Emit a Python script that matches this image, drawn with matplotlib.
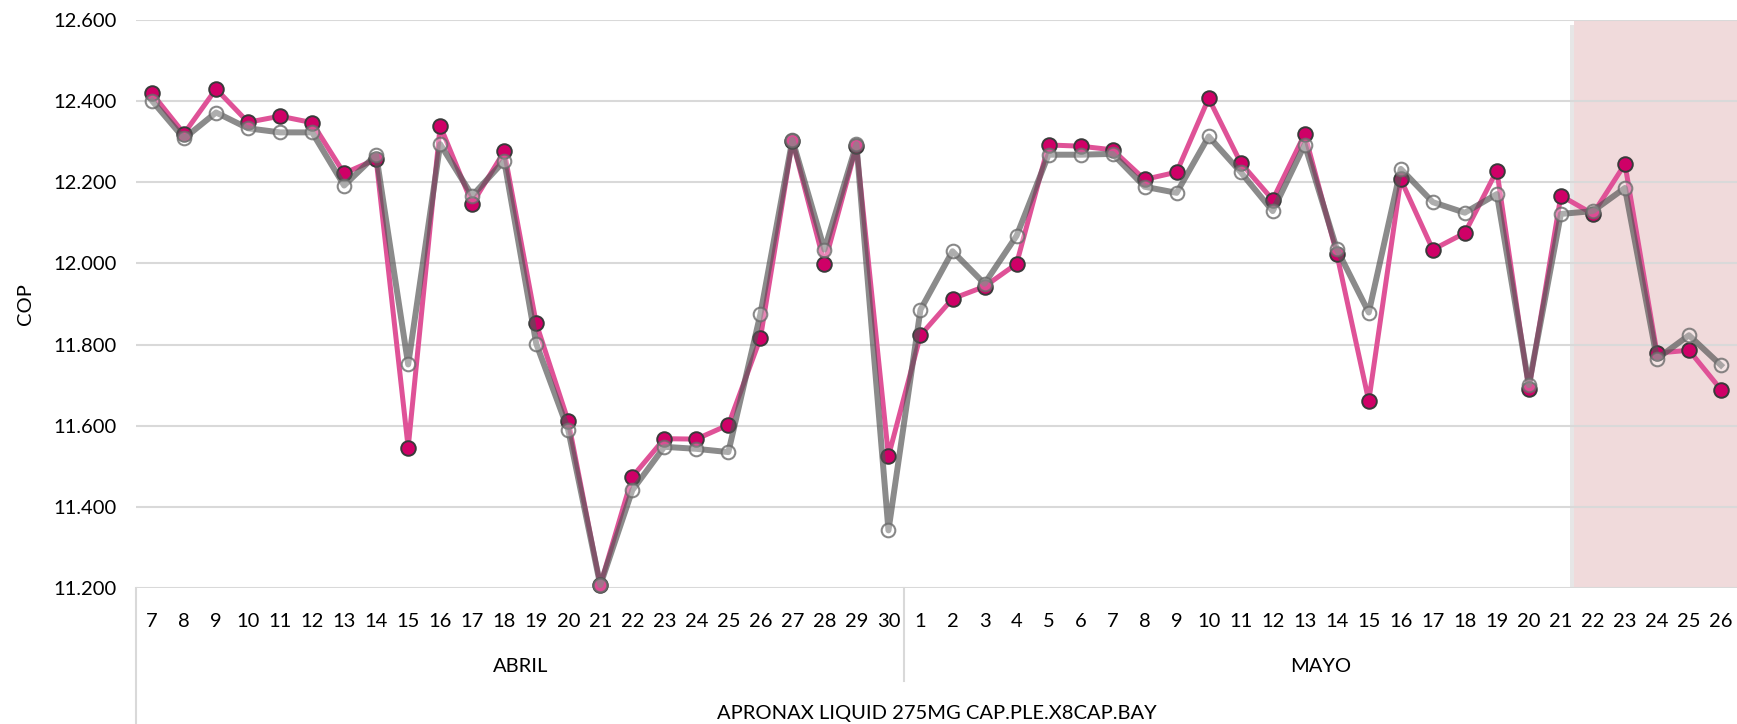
import numpy as np
import matplotlib.pyplot as plt
from matplotlib.patches import Rectangle
import matplotlib.transforms as mtransforms

plt.rcParams['font.family'] = ['Lato', 'DejaVu Sans']

abril_dias = list(range(7, 31))
mayo_dias = list(range(1, 27))

cop_rosa_abril = [12.419, 12.320, 12.430, 12.348, 12.363, 12.347, 12.222, 12.257, 11.546, 12.339,
                  12.147, 12.276, 11.852, 11.611, 11.207, 11.474, 11.568, 11.567, 11.602, 11.816,
                  12.302, 11.999, 12.289, 11.525]
cop_gris_abril = [12.401, 12.308, 12.372, 12.333, 12.323, 12.323, 12.192, 12.268, 11.751, 12.294,
                  12.167, 12.253, 11.802, 11.589, 11.207, 11.441, 11.548, 11.543, 11.535, 11.875,
                  12.305, 12.034, 12.294, 11.342]
cop_rosa_mayo = [11.823, 11.913, 11.943, 11.999, 12.292, 12.289, 12.280, 12.207, 12.225, 12.407,
                 12.248, 12.157, 12.319, 12.024, 11.661, 12.207, 12.034, 12.075, 12.229, 11.690,
                 12.167, 12.122, 12.245, 11.779, 11.786, 11.689]
cop_gris_mayo = [11.886, 12.030, 11.950, 12.068, 12.268, 12.268, 12.270, 12.189, 12.174, 12.313,
                 12.225, 12.129, 12.293, 12.036, 11.879, 12.233, 12.151, 12.125, 12.171, 11.700,
                 12.122, 12.129, 12.186, 11.765, 11.823, 11.749]

meses = ['ABRIL', 'MAYO']
producto = 'APRONAX LIQUID 275MG CAP.PLE.X8CAP.BAY'
y_ticks = [11.2, 11.4, 11.6, 11.8, 12.0, 12.2, 12.4, 12.6]

dias = abril_dias + mayo_dias
rosa = cop_rosa_abril + cop_rosa_mayo
gris = cop_gris_abril + cop_gris_mayo
x = np.arange(len(dias))
n_abril = len(abril_dias)

fig = plt.figure(figsize=(17.37, 7.24), dpi=100)
ax = fig.add_axes([136/1737, 1 - 588/724, 1 - 136/1737, 568/724])

# zona sombreada
x0 = 44.4
ax.add_patch(Rectangle((x0 - 0.12, 11.2 - 0.012), 49.6 - x0, 1.4, color='#cfcfcf', alpha=0.5, zorder=0.3, lw=0))
ax.add_patch(Rectangle((x0, 11.2), 49.6 - x0, 1.4, color='#f0dadb', zorder=0.4, lw=0))

for yt in y_ticks:
    ax.axhline(yt, color='#d9d9d9', lw=1.5, zorder=0.8)

ax.plot(x, rosa, color='#df5297', lw=3.6, marker='o', ms=10.5,
        markerfacecolor='#cf0067', markeredgecolor='#3a3a3a', markeredgewidth=1.4,
        zorder=3, clip_on=False)
ax.plot(x, gris, color=(0.33, 0.33, 0.33, 0.68), lw=4.3, marker='o', ms=9.8,
        markerfacecolor=(1, 1, 1, 0.3), markeredgecolor=(0.42, 0.42, 0.42, 0.8),
        markeredgewidth=1.5, zorder=4, clip_on=False)

ax.set_xlim(-0.5, len(dias) - 0.5)
ax.set_ylim(11.2, 12.6)
ax.set_yticks(y_ticks)
ax.set_yticklabels([f'{v:.3f}' for v in y_ticks])
ax.set_xticks(x)
ax.set_xticklabels([str(d) for d in dias])
ax.tick_params(axis='both', length=0, labelsize=14.5, colors='#000000')
ax.tick_params(axis='y', pad=14)
ax.tick_params(axis='x', pad=18)
for s in ax.spines.values():
    s.set_visible(False)
ax.set_ylabel('COP', fontsize=14.5, labelpad=14)

trans = mtransforms.blended_transform_factory(ax.transData, ax.transAxes)
# separadores de categorias
ax.plot([-0.5, -0.5], [0, -0.6], color='#d9d9d9', lw=1.5, transform=trans, clip_on=False)
ax.plot([n_abril - 0.5, n_abril - 0.5], [0, -0.164], color='#d9d9d9', lw=1.5, transform=trans, clip_on=False)

ax.text((n_abril - 1) / 2, -0.123, meses[0], transform=trans, ha='center', va='top', fontsize=14.5)
ax.text(n_abril + (len(mayo_dias) - 1) / 2, -0.123, meses[1], transform=trans, ha='center', va='top', fontsize=14.5)
ax.text((len(dias) - 1) / 2, -0.206, producto, transform=trans, ha='center', va='top', fontsize=14.5)

plt.savefig('out.png', dpi=100)
